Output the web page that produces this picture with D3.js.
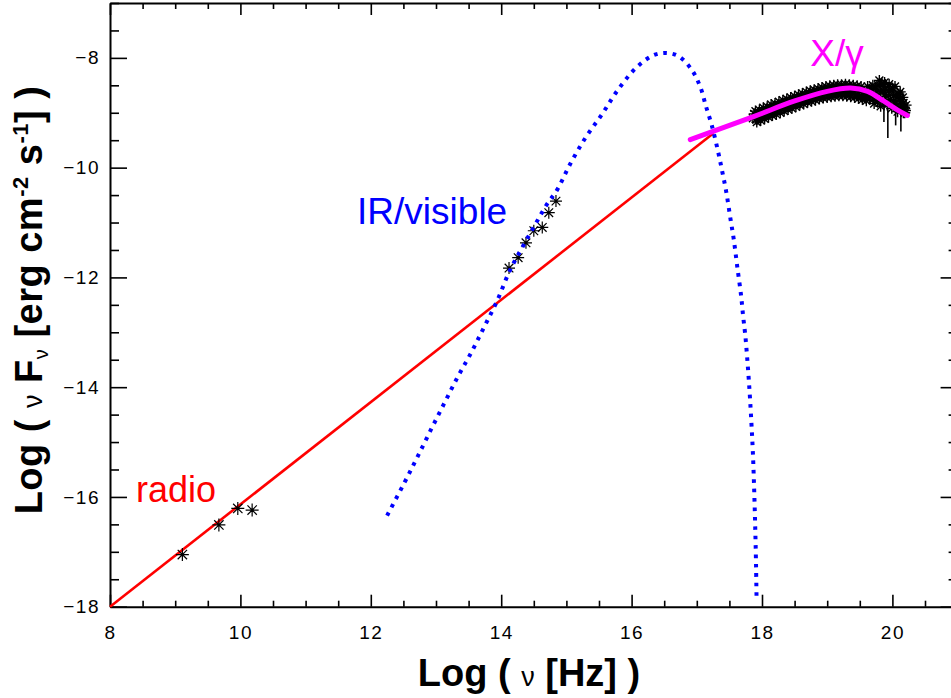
<!DOCTYPE html>
<html>
<head>
<meta charset="utf-8">
<script src="https://cdn.jsdelivr.net/npm/d3@7"></script>
<style>
  html, body { margin: 0; padding: 0; background: #fff; }
  svg { display: block; font-family: "Liberation Sans", Arial, Helvetica, sans-serif; }
</style>
</head>
<body>
<svg id="chart" width="951" height="698"></svg>
<script>
// ---------------- data ----------------
const xMajorTicks = [8, 10, 12, 14, 16, 18, 20];
const yMajorTicks = [-18, -16, -14, -12, -10, -8];

// straight power law (red)
const radioLawNu = [8, 17.26];
const radioLawF  = [-18, -9.37];

// radio measurements
const radioNu = [9.11, 9.67, 9.96, 10.18];
const radioF  = [-17.05, -16.51, -16.21, -16.24];

// IR / visible measurements
const irNu = [14.12, 14.26, 14.38, 14.50, 14.63, 14.73, 14.84];
const irF  = [-11.83, -11.64, -11.37, -11.15, -11.09, -10.82, -10.61];

// IR/visible model curve (blue dotted)
const irModelNu = [12.25, 12.52, 12.72, 12.92, 13.12, 13.33, 13.54, 13.74, 13.94, 14.13,
  14.32, 14.52, 14.70, 14.86, 15.06, 15.29, 15.55, 15.78, 16.07, 16.32,
  16.52, 16.72, 16.93, 17.06, 17.14, 17.23, 17.325, 17.39, 17.45, 17.52,
  17.565, 17.62, 17.68, 17.71, 17.745, 17.78, 17.81, 17.837, 17.86, 17.88,
  17.897, 17.909, 17.916];
const irModelF = [-16.34, -15.73, -15.26, -14.78, -14.31, -13.82, -13.37, -12.90, -12.42, -11.88,
  -11.46, -11.04, -10.67, -10.40, -9.93, -9.46, -9.02, -8.60, -8.18, -7.96,
  -7.91, -7.97, -8.23, -8.55, -8.88, -9.23, -9.70, -10.07, -10.43, -10.96,
  -11.29, -11.80, -12.34, -12.70, -13.07, -13.58, -14.09, -14.64, -15.19, -15.87,
  -16.60, -17.27, -17.82];

// X / gamma model (magenta)
const xgModelNu = [16.90, 17.87, 18.49, 19.00, 19.36, 19.62, 19.87, 20.08, 20.23];
const xgModelF  = [-9.49, -9.07, -8.79, -8.61, -8.55, -8.61, -8.79, -8.95, -9.05];

// X / gamma measurements
const xgNu = [17.86, 17.88, 17.91, 17.94, 17.97, 18.00, 18.03, 18.06, 18.09, 18.12,
  18.15, 18.18, 18.21, 18.24, 18.27, 18.30, 18.33, 18.36, 18.39, 18.42,
  18.45, 18.48, 18.51, 18.54, 18.57, 18.60, 18.63, 18.66, 18.69, 18.72,
  18.75, 18.78, 18.81, 18.84, 18.87, 18.90, 18.93, 18.96, 18.99, 19.02,
  19.05, 19.08, 19.11, 19.14, 19.17, 19.20, 19.23, 19.26, 19.29, 19.32,
  19.35, 19.38, 19.41, 19.44, 19.47, 19.50, 19.53, 19.56, 19.59, 19.62,
  19.65, 19.68, 19.71, 19.74, 19.77, 19.80, 19.82, 19.85, 19.87, 19.90,
  19.92, 19.94, 19.97, 19.99, 20.02, 20.05, 20.08, 20.11, 20.14, 20.17,
  20.20, 19.84, 19.95, 20.00, 19.78, 20.10, 19.86, 20.07, 20.13, 20.18,
  // upper edge of the band
  17.90, 17.96, 18.02, 18.08, 18.14, 18.20, 18.26, 18.32, 18.38, 18.44,
  18.50, 18.56, 18.62, 18.68, 18.74, 18.80, 18.86, 18.92, 18.98, 19.04,
  19.10, 19.16, 19.22, 19.28, 19.34, 19.40, 19.46, 19.52,
  // lower edge of the band
  17.92, 17.98, 18.04, 18.10, 18.16, 18.22, 18.28, 18.34, 18.40, 18.46,
  18.52, 18.58, 18.64, 18.70, 18.76, 18.82, 18.88, 18.94, 19.00, 19.06,
  19.12, 19.18, 19.24, 19.30, 19.36, 19.42, 19.48, 19.54, 19.60,
  // scattered high-energy end
  19.62, 19.66, 19.70, 19.72, 19.76, 19.82, 19.88, 19.89, 19.96, 20.02,
  20.04, 20.09, 20.12, 20.16, 20.19, 20.21];
const xgF = [-9.10, -9.02, -9.12, -9.04, -9.08, -8.98, -9.05, -8.95, -9.03, -8.93,
  -9.00, -8.90, -8.97, -8.87, -8.95, -8.85, -8.92, -8.82, -8.89, -8.79,
  -8.86, -8.76, -8.84, -8.74, -8.81, -8.71, -8.78, -8.69, -8.76, -8.66,
  -8.73, -8.64, -8.71, -8.62, -8.69, -8.60, -8.68, -8.59, -8.66, -8.58,
  -8.65, -8.57, -8.64, -8.57, -8.63, -8.56, -8.63, -8.57, -8.64, -8.58,
  -8.64, -8.59, -8.65, -8.60, -8.67, -8.61, -8.69, -8.62, -8.70, -8.60,
  -8.72, -8.58, -8.75, -8.55, -8.78, -8.41, -8.62, -8.80, -8.52, -8.70,
  -8.86, -8.60, -8.76, -8.92, -8.68, -8.84, -8.98, -8.75, -8.90, -8.82,
  -8.96, -8.46, -8.48, -8.55, -8.50, -8.66, -8.60, -8.67, -8.79, -8.91,
  -8.97, -8.95, -8.91, -8.89, -8.85, -8.83, -8.80, -8.77, -8.75, -8.72,
  -8.70, -8.67, -8.65, -8.62, -8.60, -8.58, -8.56, -8.54, -8.52, -8.51,
  -8.50, -8.49, -8.49, -8.48, -8.49, -8.50, -8.51, -8.52,
  -9.17, -9.14, -9.11, -9.08, -9.05, -9.03, -9.00, -8.97, -8.94, -8.92,
  -8.89, -8.86, -8.84, -8.81, -8.79, -8.77, -8.75, -8.73, -8.72, -8.71,
  -8.70, -8.69, -8.69, -8.70, -8.71, -8.72, -8.74, -8.76, -8.78,
  -8.52, -8.66, -8.50, -8.83, -8.62, -8.88, -8.45, -8.66, -8.58, -8.78,
  -8.52, -8.92, -8.62, -8.72, -9.00, -8.86];

// X / gamma error bars
const errNu = [19.87, 19.93, 20.05, 20.13, 20.17];
const errLo = [-9.17, -9.46, -9.23, -9.34, -9.10];
const errHi = [-8.75, -8.91, -8.86, -8.79, -8.75];

// ---------------- drawing ----------------
const svg = d3.select("#chart");
const W = 951, H = 698;
svg.append("rect").attr("width", W).attr("height", H).attr("fill", "#fff");

const x = d3.scaleLinear().domain([8, 21]).range([110, 957.6]);
const y = d3.scaleLinear().domain([-18, -7]).range([606.7, 3]);

const font = '"Liberation Sans", Arial, Helvetica, sans-serif';
const xMinor = d3.range(8, 21.01, 0.5).filter(v => !xMajorTicks.includes(v));
const yMinor = d3.range(-18, -6.99, 0.5).filter(v => !yMajorTicks.includes(v));
const fmt = d => (d < 0 ? "\u2212" + Math.abs(d) : String(d));

function styleAxis(g, labels) {
  g.selectAll(".domain").attr("stroke", "#000").attr("stroke-width", 2);
  g.selectAll(".tick line").attr("stroke", "#000").attr("stroke-width", 1.6);
  g.selectAll(".tick text").attr("fill", "#000").style("font-family", font)
    .style("font-size", "19px").style("letter-spacing", "1.5px");
  if (!labels) g.selectAll(".tick text").remove();
}

// bottom axis
const gB = svg.append("g").attr("transform", `translate(0,${y(-18)})`)
  .call(d3.axisBottom(x).tickValues(xMajorTicks).tickFormat(fmt).tickSize(-12).tickSizeOuter(0).tickPadding(19));
styleAxis(gB, true);
const gBm = svg.append("g").attr("transform", `translate(0,${y(-18)})`)
  .call(d3.axisBottom(x).tickValues(xMinor).tickFormat("").tickSize(-6).tickSizeOuter(0));
styleAxis(gBm, false); gBm.select(".domain").remove();

// top axis
const gT = svg.append("g").attr("transform", `translate(0,${y(-7)})`)
  .call(d3.axisTop(x).tickValues(xMajorTicks).tickFormat("").tickSize(-12).tickSizeOuter(0));
styleAxis(gT, false);
const gTm = svg.append("g").attr("transform", `translate(0,${y(-7)})`)
  .call(d3.axisTop(x).tickValues(xMinor).tickFormat("").tickSize(-6).tickSizeOuter(0));
styleAxis(gTm, false); gTm.select(".domain").remove();

// left axis
const gL = svg.append("g").attr("transform", `translate(${x(8)},0)`)
  .call(d3.axisLeft(y).tickValues(yMajorTicks).tickFormat(fmt).tickSize(-17).tickSizeOuter(0).tickPadding(10));
styleAxis(gL, true);
const gLm = svg.append("g").attr("transform", `translate(${x(8)},0)`)
  .call(d3.axisLeft(y).tickValues(yMinor).tickFormat("").tickSize(-9).tickSizeOuter(0));
styleAxis(gLm, false); gLm.select(".domain").remove();

// right axis
const gR = svg.append("g").attr("transform", `translate(${x(21)},0)`)
  .call(d3.axisRight(y).tickValues(yMajorTicks).tickFormat("").tickSize(-17).tickSizeOuter(0));
styleAxis(gR, false);
const gRm = svg.append("g").attr("transform", `translate(${x(21)},0)`)
  .call(d3.axisRight(y).tickValues(yMinor).tickFormat("").tickSize(-9).tickSizeOuter(0));
styleAxis(gRm, false); gRm.select(".domain").remove();

// asterisk symbol
function asterisk(r) {
  const d = r * 0.72;
  return `M${-r},0H${r}M0,${-r}V${r}M${-d},${-d}L${d},${d}M${-d},${d}L${d},${-d}`;
}

const line = d3.line().x(d => x(d[0])).y(d => y(d[1]));
const zip = (a, b) => a.map((v, i) => [v, b[i]]);

// red power law
svg.append("path").datum(zip(radioLawNu, radioLawF))
  .attr("d", line).attr("fill", "none").attr("stroke", "#ff0000").attr("stroke-width", 2.6);

// radio and IR points
const pts = svg.append("g").attr("fill", "none").attr("stroke", "#000").attr("stroke-width", 1.2);
pts.selectAll("path.radio").data(zip(radioNu, radioF)).join("path").attr("class", "radio")
  .attr("transform", d => `translate(${x(d[0])},${y(d[1])})`).attr("d", asterisk(6.5));
pts.selectAll("path.ir").data(zip(irNu, irF)).join("path").attr("class", "ir")
  .attr("transform", d => `translate(${x(d[0])},${y(d[1])})`).attr("d", asterisk(6));

// blue dotted IR/visible model
svg.append("path").datum(zip(irModelNu, irModelF))
  .attr("d", d3.line().x(d => x(d[0])).y(d => y(d[1])).curve(d3.curveCatmullRom.alpha(0.5)))
  .attr("fill", "none").attr("stroke", "#0000ff").attr("stroke-width", 4)
  .attr("stroke-dasharray", "3.6,5.8");

// X/gamma points
const xg = svg.append("g").attr("fill", "none").attr("stroke", "#000").attr("stroke-width", 1.4);
xg.selectAll("path").data(zip(xgNu, xgF)).join("path")
  .attr("transform", d => `translate(${x(d[0])},${y(d[1])})`).attr("d", asterisk(5.5));
xg.selectAll("line").data(errNu.map((v, i) => [v, errLo[i], errHi[i]])).join("line")
  .attr("x1", d => x(d[0])).attr("x2", d => x(d[0]))
  .attr("y1", d => y(d[1])).attr("y2", d => y(d[2])).attr("stroke-width", 1.6);

// magenta X/gamma model
svg.append("path").datum(zip(xgModelNu, xgModelF))
  .attr("d", d3.line().x(d => x(d[0])).y(d => y(d[1])).curve(d3.curveCatmullRom.alpha(0.5)))
  .attr("fill", "none").attr("stroke", "#ff00ff").attr("stroke-width", 5).attr("stroke-linecap", "round");

// region labels
svg.append("text").attr("x", x(8.40)).attr("y", y(-16.10)).attr("fill", "#ff0000")
  .style("font-family", font).style("font-size", "36px").text("radio");
svg.append("text").attr("x", x(11.79)).attr("y", y(-11.02)).attr("fill", "#0000ff")
  .style("font-family", font).style("font-size", "37px").text("IR/visible");
svg.append("text").attr("x", x(18.74)).attr("y", y(-8.15)).attr("fill", "#ff00ff")
  .style("font-family", font).style("font-size", "37px").text("X/\u03b3");

// axis titles
const xt = svg.append("text").attr("x", 529).attr("y", 686).attr("text-anchor", "middle")
  .style("font-family", font).style("font-size", "38px").style("font-weight", "bold").attr("fill", "#000");
xt.append("tspan").text("Log ( ");
xt.append("tspan").style("font-weight", "normal").style("font-size", "27px").text("\u03bd");
xt.append("tspan").text(" [Hz] )");

const yt = svg.append("text").attr("transform", "translate(42,300) rotate(-90)").attr("text-anchor", "middle")
  .style("font-family", font).style("font-size", "38px").style("font-weight", "bold")
  .style("letter-spacing", "0.5px").attr("fill", "#000");
yt.append("tspan").text("Log ( ");
yt.append("tspan").style("font-weight", "normal").style("font-size", "27px").text("\u03bd");
yt.append("tspan").text(" F");
yt.append("tspan").style("font-weight", "normal").style("font-size", "20px").attr("dy", 6).text("\u03bd");
yt.append("tspan").attr("dy", -6).text(" [erg cm");
yt.append("tspan").style("font-size", "22px").attr("dy", -14).text("-2");
yt.append("tspan").attr("dy", 14).text(" s");
yt.append("tspan").style("font-size", "22px").attr("dy", -14).text("-1");
yt.append("tspan").attr("dy", 14).text("] )");
</script>
</body>
</html>
